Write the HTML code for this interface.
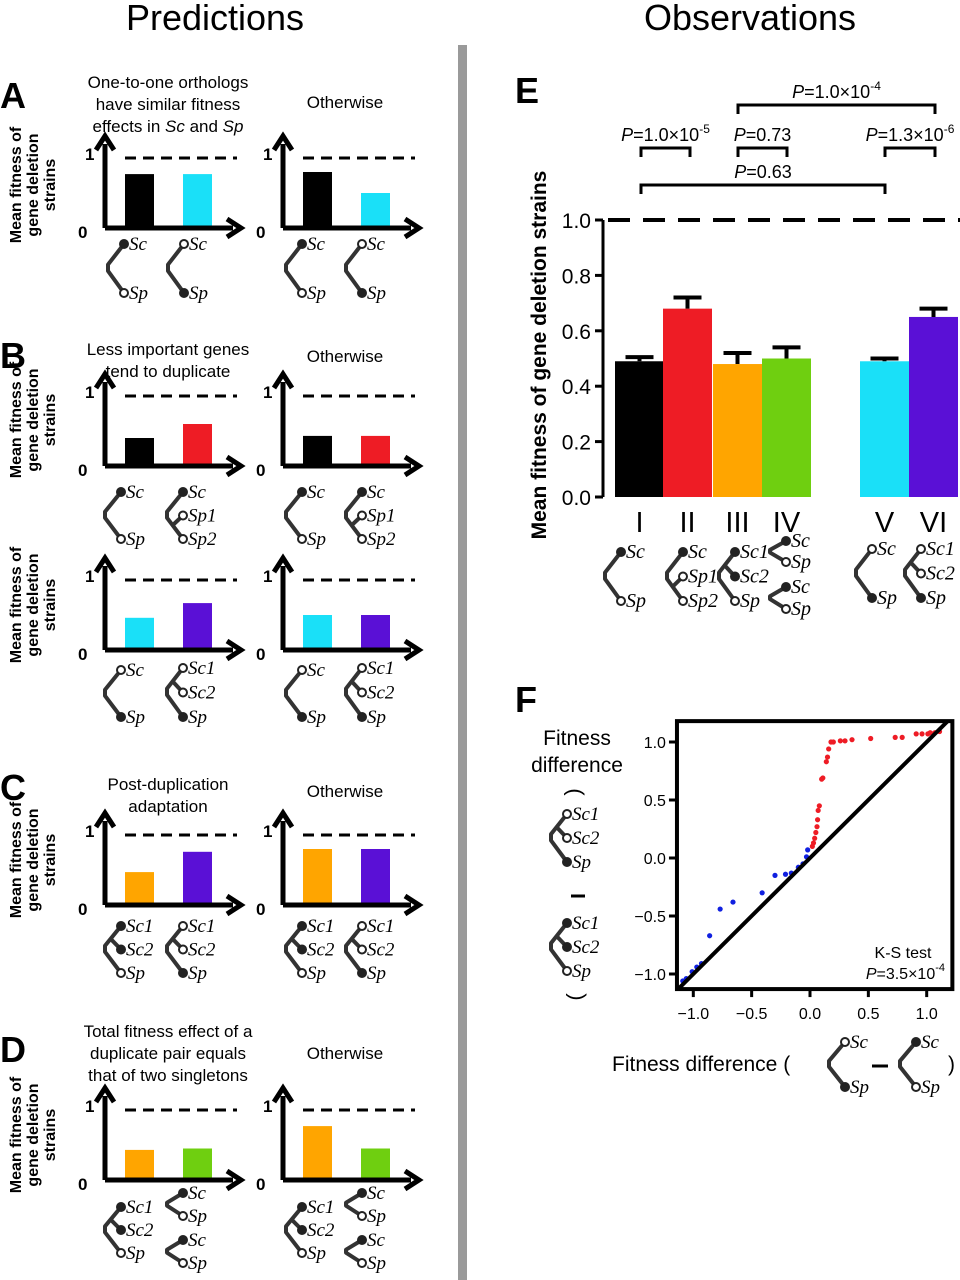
<!DOCTYPE html>
<html><head><meta charset="utf-8"><style>
html,body{margin:0;padding:0;background:#fff;}
svg{display:block;font-family:"Liberation Sans",sans-serif;}
.it{font-family:"Liberation Serif",serif;font-style:italic;}
</style></head><body>
<svg id="fig" width="960" height="1280" viewBox="0 0 960 1280" xmlns="http://www.w3.org/2000/svg"></svg>
<script>
// ---- Panel E data ----
const eCategories = ["I","II","III","IV","V","VI"];
const eValues = [0.49, 0.68, 0.48, 0.50, 0.49, 0.65];
const eErrors = [0.015, 0.04, 0.04, 0.04, 0.01, 0.03];
const eColors = ["#000000","#ee1c25","#ffa500","#6fcf10","#1ae0f8","#5a10d6"];
const eTicks = [0.0,0.2,0.4,0.6,0.8,1.0];
// ---- Panel F data ----
const fRedX = [1.11,1.07,1.03,1.01,0.96,0.91,0.79,0.73,0.52,0.36,0.30,0.26,0.20,0.18,0.16,0.15,0.14,0.11,0.10,0.08,0.07,0.065,0.06,0.05,0.04,0.03,0.02];
const fRedY = [1.09,1.08,1.08,1.07,1.07,1.07,1.04,1.04,1.03,1.02,1.01,1.01,1.0,1.0,0.94,0.87,0.83,0.69,0.68,0.45,0.41,0.33,0.27,0.22,0.17,0.13,0.10];
const fBlueX = [-0.02,-0.03,-0.06,-0.10,-0.16,-0.21,-0.30,-0.41,-0.66,-0.77,-0.86,-0.93,-0.97,-1.01,-1.06,-1.09];
const fBlueY = [0.07,0.01,-0.05,-0.08,-0.13,-0.14,-0.15,-0.30,-0.38,-0.44,-0.67,-0.91,-0.94,-0.98,-1.04,-1.06];
const fTicks = [-1.0,-0.5,0.0,0.5,1.0];
// ---- Prediction panel data (left bar, right bar) ----
const predA1 = [0.77,0.77], predA2 = [0.8,0.5];
const predB1 = [0.4,0.6], predB2 = [0.43,0.43];
const predB3 = [0.46,0.67], predB4 = [0.5,0.5];
const predC1 = [0.47,0.76], predC2 = [0.8,0.8];
const predD1 = [0.43,0.45], predD2 = [0.77,0.45];

const NS="http://www.w3.org/2000/svg";
const svg=document.getElementById('fig');
function mk(tag,attrs,parent){const e=document.createElementNS(NS,tag);for(const k in attrs)e.setAttribute(k,attrs[k]);(parent||svg).appendChild(e);return e;}
function txt(s,x,y,size,opts,parent){opts=opts||{};const e=mk('text',{x:x,y:y,'font-size':size,'text-anchor':opts.anchor||'start','font-weight':opts.bold?'bold':'normal',fill:'#000'},parent);if(opts.cls)e.setAttribute('class',opts.cls);if(opts.transform)e.setAttribute('transform',opts.transform);e.textContent=s;return e;}

let t=txt("Predictions",215,30,36,{anchor:'middle'});

t=txt("Observations",750,30,36,{anchor:'middle'});

let dv=mk('rect',{x:458,y:45,width:9,height:1235,fill:'#9a9a9a'});

[["A",0,108],["B",0,368],["C",0,800],["D",0,1062],["E",515,103],["F",515,712]].forEach(p=>{
 const e=txt(p[0],p[1],p[2],36,{bold:true});
 
 
});

function tree(x,leaves,type,fs,name){
 const g=mk('g',{});
 
 
 const top=leaves[0].y, bot=leaves[leaves.length-1].y, h=bot-top;
 const ex=x-16, ey1=top+h*0.42, ey2=top+h*0.55;
 mk('path',{d:`M${x} ${top} L${ex} ${ey1} L${ex} ${ey2} L${x} ${bot}`,fill:'none',stroke:'#333','stroke-width':4,'stroke-linejoin':'round'},g);
 if(leaves.length===3){
  const m=leaves[1].y;
  let px,py;
  if(type==='down'){px=ex+(x-ex)*0.35;py=ey2+(bot-ey2)*0.35;}
  else{px=ex+(x-ex)*0.35;py=ey1-(ey1-top)*0.35;}
  mk('path',{d:`M${px} ${py} L${x} ${m}`,fill:'none',stroke:'#333','stroke-width':4},g);
 }
 leaves.forEach(L=>{
  mk('circle',{cx:x,cy:L.y,r:4,fill:L.f?'#222':'#fff',stroke:'#222','stroke-width':2},g);
  txt(L.l,x+5,L.y+6,fs||19,{cls:'it'},g);
 });
 return g;
}
function two(x,y,h,f1,f2,l1,l2,fs,name){return tree(x,[{y:y,f:f1,l:l1||'Sc'},{y:y+h,f:f2,l:l2||'Sp'}],2,fs,name);}
function three(x,y,s,fl,ls,type,fs,name){return tree(x,[{y:y,f:fl[0],l:ls[0]},{y:y+s,f:fl[1],l:ls[1]},{y:y+2*s,f:fl[2],l:ls[2]}],type,fs,name);}

function panel(ax,base,vals,cols,name){
 const g=mk('g',{});
 
 
 const u=70;
 vals.forEach((v,i)=>{
  const b=mk('rect',{x:ax+20+i*58,y:base-v*u,width:29,height:v*u,fill:cols[i]},g);
  
  
 });
 mk('line',{x1:ax+20,x2:ax+132,y1:base-u,y2:base-u,stroke:'#000','stroke-width':3,'stroke-dasharray':'11 7'},g);
 mk('path',{d:`M${ax} ${base} L${ax} ${base-84} M${ax} ${base} L${ax+128} ${base}`,stroke:'#000','stroke-width':5,fill:'none'},g);
 mk('path',{d:`M${ax-9} ${base-78} L${ax} ${base-92} L${ax+9} ${base-78}`,stroke:'#000','stroke-width':5,fill:'none'},g);
 mk('path',{d:`M${ax+122} ${base-9} L${ax+136} ${base} L${ax+122} ${base+9}`,stroke:'#000','stroke-width':5,fill:'none'},g);
 txt("1",ax-20,base-u+2,17,{bold:true},g);
 txt("0",ax-27,base+10,17,{bold:true},g);
}
function ylab(cx,cy,name){
 const g=mk('g',{});
 
 
 ["Mean fitness of","gene deletion","strains"].forEach((s,i)=>{
  const x=cx-17+i*17;
  txt(s,x,cy,16,{anchor:'middle',bold:true,transform:`rotate(-90 ${x} ${cy})`},g);
 });
}
function lines(arr,cx,y0,name){
 const g=mk('g',{});
 
 
 arr.forEach((s,i)=>{const e=txt('',cx,y0+i*22,17,{anchor:'middle'},g);e.innerHTML=s;});
}
const K='#000',CY='#1ae0f8',RD='#ee1c25',PU='#5a10d6',OR='#ffa500',GR='#6fcf10';
lines(["One-to-one orthologs","have similar fitness",'effects in <tspan font-style="italic">Sc</tspan> and <tspan font-style="italic">Sp</tspan>'],168,88,'title-a');
lines(["Otherwise"],345,108,'title-a-otherwise');
ylab(38,185,'y-label-a');
panel(105,228,predA1,[K,CY],'panel-a-left');panel(283,228,predA2,[K,CY],'panel-a-right');
two(124,244,49,1,0,0,0,19,'tree-a1');two(184,244,49,0,1,0,0,19,'tree-a2');
two(302,244,49,1,0,0,0,19,'tree-a3');two(362,244,49,0,1,0,0,19,'tree-a4');
lines(["Less important genes","tend to duplicate"],168,355,'title-b');
lines(["Otherwise"],345,362,'title-b-otherwise');
ylab(38,420,'y-label-b1');
panel(105,466,predB1,[K,RD],'panel-b-left');panel(283,466,predB2,[K,RD],'panel-b-right');
two(121,492,47,1,0,0,0,19,'tree-b1');three(183,492,23.5,[1,0,0],['Sc','Sp1','Sp2'],'down',19,'tree-b2');
two(302,492,47,1,0,0,0,19,'tree-b3');three(362,492,23.5,[1,0,0],['Sc','Sp1','Sp2'],'down',19,'tree-b4');
ylab(38,605,'y-label-b2');
panel(105,650,predB3,[CY,PU],'panel-b2-left');panel(283,650,predB4,[CY,PU],'panel-b2-right');
two(121,670,47,0,1,0,0,19,'tree-b5');three(183,668,24.5,[0,0,1],['Sc1','Sc2','Sp'],'up',19,'tree-b6');
two(302,670,47,0,1,0,0,19,'tree-b7');three(362,668,24.5,[0,0,1],['Sc1','Sc2','Sp'],'up',19,'tree-b8');
lines(["Post-duplication","adaptation"],168,790,'title-c');
lines(["Otherwise"],345,797,'title-c-otherwise');
ylab(38,860,'y-label-c');
panel(105,905,predC1,[OR,PU],'panel-c-left');panel(283,905,predC2,[OR,PU],'panel-c-right');
three(121,926,23.5,[1,1,0],['Sc1','Sc2','Sp'],'up',19,'tree-c1');three(183,926,23.5,[0,0,1],['Sc1','Sc2','Sp'],'up',19,'tree-c2');
three(302,926,23.5,[1,1,0],['Sc1','Sc2','Sp'],'up',19,'tree-c3');three(362,926,23.5,[0,0,1],['Sc1','Sc2','Sp'],'up',19,'tree-c4');
lines(["Total fitness effect of a","duplicate pair equals","that of two singletons"],168,1037,'title-d');
lines(["Otherwise"],345,1059,'title-d-otherwise');
ylab(38,1135,'y-label-d');
panel(105,1180,predD1,[OR,GR],'panel-d-left');panel(283,1180,predD2,[OR,GR],'panel-d-right');
three(121,1207,23,[1,1,0],['Sc1','Sc2','Sp'],'up',19,'tree-d1');two(183,1193,23,1,0,0,0,19,'tree-d2');two(183,1240,23,1,0,0,0,19,'tree-d3');
three(302,1207,23,[1,1,0],['Sc1','Sc2','Sp'],'up',19,'tree-d4');two(362,1193,23,1,0,0,0,19,'tree-d5');two(362,1240,23,1,0,0,0,19,'tree-d6');

// ---- Panel E ----
const eY0=497, eU=277, eAx=603;
const eBarX=[615,663,713,762,860,909], eBarW=49;
function eY(v){return eY0-v*eU;}
const gE=mk('g',{});


eValues.forEach((v,i)=>{
 const b=mk('rect',{x:eBarX[i],y:eY(v),width:eBarW,height:v*eU,fill:eColors[i]},gE);
 
 
 const cx=eBarX[i]+eBarW/2, yt=eY(v+eErrors[i]);
 const eb=mk('path',{d:`M${cx} ${eY(v)} L${cx} ${yt} M${cx-14} ${yt} L${cx+14} ${yt}`,stroke:'#000','stroke-width':4,fill:'none'},gE);
 
 
 const lb=txt(eCategories[i],cx,532,29,{anchor:'middle'},gE);
 
 
});
let ax=mk('path',{d:`M${eAx} ${eY(1.0)} L${eAx} ${eY0}`,stroke:'#000','stroke-width':3,fill:'none'},gE);

eTicks.forEach(v=>{
 mk('line',{x1:eAx-8,x2:eAx,y1:eY(v),y2:eY(v),stroke:'#000','stroke-width':3},gE);
 const tl=txt(v.toFixed(1),eAx-12,eY(v)+8,21,{anchor:'end'},gE);
 
 
});
let dl=mk('line',{x1:eAx+5,x2:960,y1:eY(1.0),y2:eY(1.0),stroke:'#000','stroke-width':4,'stroke-dasharray':'22 13'},gE);

let yl=txt("Mean fitness of gene deletion strains",546,355,21,{anchor:'middle',bold:true,transform:'rotate(-90 546 355)'},gE);

function bracket(x1,x2,y,html,name){
 const g=mk('g',{});
 
 
 mk('path',{d:`M${x1} ${y+9} L${x1} ${y} L${x2} ${y} L${x2} ${y+9}`,stroke:'#000','stroke-width':3,fill:'none'},g);
 const e=txt('',(x1+x2)/2,y-7,18,{anchor:'middle'},g);e.innerHTML=html;
}
const P='<tspan font-style="italic">P</tspan>';
bracket(641,690,148,P+'=1.0×10<tspan dy="-8" font-size="12">-5</tspan>','bracket-i-ii');
bracket(738,787,148,P+'=0.73','bracket-iii-iv');
bracket(885,935,148,P+'=1.3×10<tspan dy="-8" font-size="12">-6</tspan>','bracket-v-vi');
bracket(738,935,105,P+'=1.0×10<tspan dy="-8" font-size="12">-4</tspan>','bracket-iii-vi');
bracket(641,885,185,P+'=0.63','bracket-i-v');
two(621,552,49,1,0,0,0,20,'tree-e-i');
three(683,552,24.5,[1,0,0],['Sc','Sp1','Sp2'],'down',20,'tree-e-ii');
three(735,552,24.5,[1,1,0],['Sc1','Sc2','Sp'],'up',20,'tree-e-iii');
two(786,541,21,1,0,0,0,20,'tree-e-iv-a');two(786,587,22,1,0,0,0,20,'tree-e-iv-b');
two(872,549,49,0,1,0,0,20,'tree-e-v');
three(921,549,24.5,[0,0,1],['Sc1','Sc2','Sp'],'up',20,'tree-e-vi');

// ---- Panel F ----
const fX0=810, fY0=858, fUx=116.7, fUy=116;
function fx(v){return fX0+v*fUx;}
function fy(v){return fY0-v*fUy;}
const gF=mk('g',{});


const cp=mk('clipPath',{id:'fclip'},gF);
mk('rect',{x:fx(-1.14),y:fy(1.18),width:fx(1.22)-fx(-1.14),height:fy(-1.13)-fy(1.18)},cp);
fBlueX.forEach((v,i)=>{
 const c=mk('circle',{cx:fx(v),cy:fy(fBlueY[i]),r:2.6,fill:'#1020e0'},gF);
 
 
});
fRedX.forEach((v,i)=>{
 const c=mk('circle',{cx:fx(v),cy:fy(fRedY[i]),r:2.6,fill:'#ee1c25'},gF);
 
 
});
let dg=mk('line',{x1:fx(-1.3),y1:fy(-1.3),x2:fx(1.3),y2:fy(1.3),stroke:'#000','stroke-width':4,'clip-path':'url(#fclip)'},gF);

let fr=mk('rect',{x:fx(-1.14),y:fy(1.18),width:fx(1.22)-fx(-1.14),height:fy(-1.13)-fy(1.18),fill:'none',stroke:'#000','stroke-width':4},gF);

fTicks.forEach(v=>{
 mk('line',{x1:fx(-1.14)-8,x2:fx(-1.14),y1:fy(v),y2:fy(v),stroke:'#000','stroke-width':3},gF);
 const a=txt(v.toFixed(1).replace('-','−'),fx(-1.14)-11,fy(v)+6,16,{anchor:'end'},gF);
 
 mk('line',{x1:fx(v),x2:fx(v),y1:fy(-1.13),y2:fy(-1.13)+8,stroke:'#000','stroke-width':3},gF);
 const b=txt(v.toFixed(1).replace('-','−'),fx(v),fy(-1.13)+30,16,{anchor:'middle'},gF);
 
});
let ks=txt("K-S test",903,958,16,{anchor:'middle'},gF);

ks=txt('',945,979,16,{anchor:'end'},gF);ks.innerHTML=P+'=3.5×10<tspan dy="-8" font-size="11">-4</tspan>';

let fl=txt("Fitness",577,745,21,{anchor:'middle'});

fl=txt("difference",577,772,21,{anchor:'middle'});

fl=txt(")",574,798,22,{anchor:'middle',transform:'rotate(-90 574 792)'});

three(567,814,24,[0,0,1],['Sc1','Sc2','Sp'],'up',19,'tree-f-y1');
fl=mk('line',{x1:571,x2:585,y1:896,y2:896,stroke:'#000','stroke-width':3});

three(567,923,24,[1,1,0],['Sc1','Sc2','Sp'],'up',19,'tree-f-y2');
fl=txt("(",576,1003,22,{anchor:'middle',transform:'rotate(-90 576 997)'});

fl=txt("Fitness difference (",612,1071,21,{});

two(845,1042,45,0,1,0,0,19,'tree-f-x1');
fl=mk('line',{x1:872,x2:888,y1:1066,y2:1066,stroke:'#000','stroke-width':3});

two(916,1042,45,1,0,0,0,19,'tree-f-x2');
fl=txt(")",948,1071,21,{});

</script>
</body></html>
